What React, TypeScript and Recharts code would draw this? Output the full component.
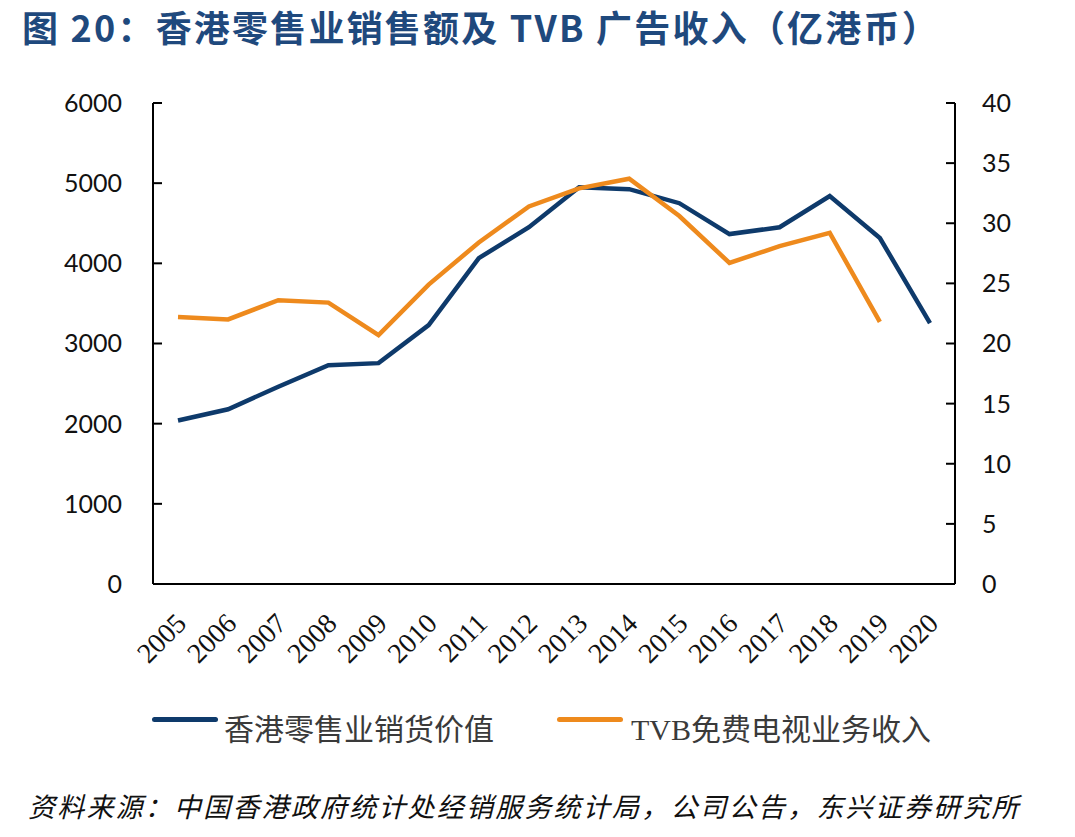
import React from 'react';
import { LineChart, Line, XAxis, YAxis } from 'recharts';

const years = ['2005', '2006', '2007', '2008', '2009', '2010', '2011', '2012', '2013', '2014', '2015', '2016', '2017', '2018', '2019', '2020'];
const retailSales = [2040, 2180, 2460, 2730, 2755, 3230, 4065, 4450, 4950, 4925, 4750, 4365, 4450, 4840, 4315, 3255];
const tvbRevenue: (number | null)[] = [22.2, 22.0, 23.6, 23.4, 20.7, 24.9, 28.4, 31.4, 32.9, 33.7, 30.6, 26.7, 28.1, 29.2, 21.8, null];
const leftTicks = [0, 1000, 2000, 3000, 4000, 5000, 6000];
const rightTicks = [0, 5, 10, 15, 20, 25, 30, 35, 40];

const seriesNames = ['香港零售业销货价值', 'TVB免费电视业务收入'];
const titleText = '图 20：香港零售业销售额及 TVB 广告收入（亿港币）';
const sourceText = '资料来源：中国香港政府统计处经销服务统计局，公司公告，东兴证券研究所';

const NAVY = '#0E3A6B';
const ORANGE = '#EE8A1D';

const data = years.map((y, i) => ({ year: y, retail: retailSales[i], tvb: tvbRevenue[i] }));

const XTick = (props: any) => {
  const { x, y, payload } = props;
  return (
    <g transform={`translate(${x},${y})`}>
      <text
        x={10}
        y={41}
        textAnchor="end"
        transform="rotate(-45 10 41)"
        fontFamily="'Liberation Serif', 'Times New Roman', serif"
        fontSize={28}
        fill="#111"
      >
        {payload.value}
      </text>
    </g>
  );
};

const yTickStyle = { fontFamily: 'Lato, sans-serif', fontSize: 25, fill: '#111' };

export default function App() {
  return (
    <div style={{ position: 'absolute', left: 0, top: 0, width: 1075, height: 837, background: '#fff', overflow: 'hidden' }}>
      <div
        style={{
          position: 'absolute',
          left: 22,
          top: 2,
          fontFamily: "'Noto Sans CJK SC', sans-serif",
          fontWeight: 700,
          fontSize: 36,
          letterSpacing: 2.2,
          color: '#1F497D',
          whiteSpace: 'nowrap',
          lineHeight: '48px',
        }}
      >
        {titleText}
      </div>
      <div style={{ position: 'absolute', left: 0, top: 0 }}>
        <LineChart width={1075} height={700} data={data} margin={{ top: 103, right: 0, bottom: 0, left: 0 }}>
          <XAxis
            dataKey="year"
            type="category"
            padding={{ left: 25, right: 25 }}
            tickLine={false}
            tickSize={0}
            tickMargin={0}
            axisLine={{ stroke: '#000', strokeWidth: 2 }}
            tick={<XTick />}
            interval={0}
            height={116}
          />
          <YAxis
            yAxisId="left"
            orientation="left"
            domain={[0, 6000]}
            ticks={leftTicks}
            width={153}
            axisLine={{ stroke: '#000', strokeWidth: 2 }}
            tickLine={{ stroke: '#000', strokeWidth: 2 }}
            tickSize={-9}
            tickMargin={40}
            tick={yTickStyle}
            interval={0}
          />
          <YAxis
            yAxisId="right"
            orientation="right"
            domain={[0, 40]}
            ticks={rightTicks}
            width={120}
            axisLine={{ stroke: '#000', strokeWidth: 2 }}
            tickLine={{ stroke: '#000', strokeWidth: 2 }}
            tickSize={-9}
            tickMargin={36}
            tick={{ ...yTickStyle, textAnchor: 'start' }}
            interval={0}
          />
          <Line
            yAxisId="left"
            dataKey="retail"
            name={seriesNames[0]}
            stroke={NAVY}
            strokeWidth={4.5}
            dot={false}
            activeDot={false}
            isAnimationActive={false}
          />
          <Line
            yAxisId="right"
            dataKey="tvb"
            name={seriesNames[1]}
            stroke={ORANGE}
            strokeWidth={4.5}
            dot={false}
            activeDot={false}
            isAnimationActive={false}
          />
        </LineChart>
      </div>
      {/* Legend */}
      <div style={{ position: 'absolute', left: 152, top: 717, width: 66, height: 5, borderRadius: 3, background: NAVY }} />
      <div
        style={{
          position: 'absolute',
          left: 224,
          top: 706,
          fontFamily: "'Noto Sans CJK SC', sans-serif",
          fontSize: 30,
          lineHeight: '42px',
          color: '#3a3a3a',
          whiteSpace: 'nowrap',
        }}
      >
        {seriesNames[0]}
      </div>
      <div style={{ position: 'absolute', left: 557, top: 717, width: 66, height: 5, borderRadius: 3, background: ORANGE }} />
      <div
        style={{
          position: 'absolute',
          left: 631,
          top: 706,
          fontFamily: "'Liberation Serif', 'Noto Sans CJK SC', serif",
          fontSize: 30,
          lineHeight: '42px',
          color: '#3a3a3a',
          whiteSpace: 'nowrap',
        }}
      >
        <span>TVB</span>
        <span style={{ fontFamily: "'Noto Sans CJK SC', sans-serif" }}>{seriesNames[1].slice(3)}</span>
      </div>
      {/* Source */}
      <div
        style={{
          position: 'absolute',
          left: 28,
          top: 788,
          fontFamily: "'Noto Sans CJK SC', sans-serif",
          fontStyle: 'italic',
          fontSize: 27,
          letterSpacing: 2.2,
          lineHeight: '36px',
          color: '#111',
          whiteSpace: 'nowrap',
        }}
      >
        {sourceText}
      </div>
    </div>
  );
}
